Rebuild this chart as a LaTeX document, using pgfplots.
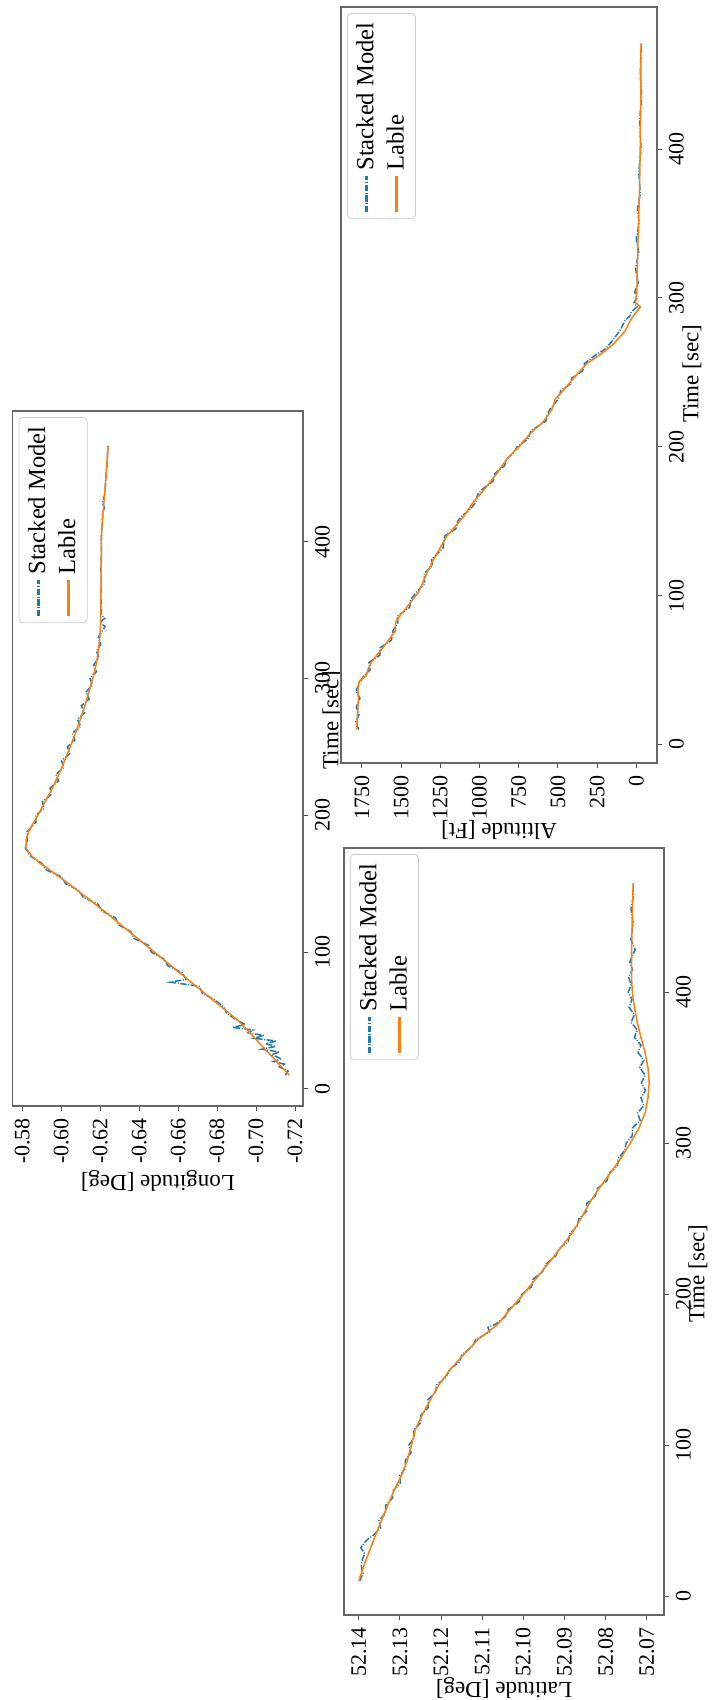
\documentclass[border=0pt]{standalone}
\usepackage{fontspec}
\setmainfont{Liberation Serif}
\usepackage{pgfplots}
\pgfplotsset{compat=1.18}
\definecolor{mplblue}{HTML}{1F77B4}
\definecolor{mplorange}{HTML}{FF7F0E}
\pgfplotsset{
  myaxis/.style={
    scale only axis,
    anchor=south west,
    xmin=-12.5, xmax=495.5,
    xtick={0,100,200,300,400},
    tick pos=left,
    tick align=outside,
    major tick length=2.5pt,
    axis line style={black!60, line width=0.6pt},
    every tick/.style={black!70, line width=0.5pt},
    /pgf/number format/assume math mode=true,
    ticklabel style={font=\fontsize{11}{13}\selectfont},
    label style={font=\fontsize{11.5}{13}\selectfont, inner sep=0pt},
    xlabel={Time [sec]},
    legend cell align=left,
    legend style={at={(1,1)}, anchor=north east, xshift=-3pt, yshift=-3pt,
      draw=black!20, rounded corners=2pt, fill=white, fill opacity=0.8,
      text opacity=1, font=\fontsize{12.3}{14}\selectfont, inner sep=2.5pt, row sep=1pt},
    legend image code/.code={\draw[#1, line width=1.6pt] (0pt,0pt) -- (18pt,0pt);},
    scaled ticks=false,
  },
  pred/.style={mplblue, line width=0.75pt, dash pattern=on 3.2pt off 0.8pt on 0.5pt off 0.8pt},
  lab/.style={mplorange, line width=0.75pt},
}
\begin{document}
\begin{tikzpicture}[rotate=90, transform shape]
\path[use as bounding box] (0pt,0pt) rectangle (850pt,356.5pt);
% ---------------- Latitude ----------------
\begin{axis}[myaxis,
  at={(42.5pt,24.5pt)}, width=383.5pt, height=160pt,
  ymin=52.0658, ymax=52.1436,
  ytick={52.07,52.08,52.09,52.10,52.11,52.12,52.13,52.14},
  yticklabel style={/pgf/number format/.cd, fixed, fixed zerofill, precision=2},
  ylabel={Latitude [Deg]},
  xlabel style={at={(axis description cs:0.445,-0.075)}, anchor=north},
  ylabel style={at={(axis description cs:-0.0808,0.5)}, anchor=south},
]
\addplot[pred] coordinates {
(10,52.1398)(15,52.1390)(20,52.1394)(25,52.1391)(28,52.1385)(32,52.1395)(35,52.1387)(38,52.1377)
(40,52.1366)(45,52.1347)(50,52.1351)(55,52.1335)(60,52.1335)(65,52.1318)(70,52.1316)(75,52.1299)
(80,52.1300)(85,52.1286)(90,52.1287)(95,52.1273)(100,52.1278)(105,52.1265)(110,52.1267)(115,52.1249)
(120,52.1249)(125,52.1231)(130,52.1232)(135,52.1214)(140,52.1210)(145,52.1188)(150,52.1180)(155,52.1156)
(160,52.1149)(165,52.1125)(170,52.1115)(175,52.1082)(178,52.1086)(180,52.1068)(185,52.1044)(190,52.1036)
(195,52.1010)(200,52.1003)(205,52.0980)(210,52.0976)(215,52.0953)(220,52.0945)(225,52.0922)(230,52.0913)
(235,52.0891)(240,52.0887)(245,52.0869)(250,52.0865)(255,52.0846)(260,52.0846)(265,52.0825)(270,52.0820)
(275,52.0797)(280,52.0792)(285,52.0771)(290,52.0769)(295,52.0754)(300,52.0750)(305,52.0735)(310,52.0735)
(315,52.0716)(320,52.0722)(325,52.0707)(330,52.0714)(335,52.0703)(340,52.0713)(345,52.0704)(350,52.0717)
(355,52.0707)(360,52.0721)(365,52.0714)(370,52.0730)(375,52.0723)(380,52.0738)(385,52.0730)(390,52.0743)
(395,52.0736)(400,52.0745)(405,52.0738)(410,52.0744)(415,52.0735)(420,52.0741)(425,52.0734)(428,52.0728)
(435,52.0739)(445,52.0733)(455,52.0738)(465,52.0732)(472,52.0733)
};
\addlegendentry{Stacked Model}
\addplot[lab] coordinates {
(10,52.1400)(20,52.1388)(30,52.1374)(40,52.1360)(50,52.1345)(60,52.1330)(70,52.1314)(80,52.1296)
(90,52.1282)(100,52.1272)(110,52.1263)(120,52.1246)(130,52.1226)(140,52.1205)(150,52.1178)(160,52.1145)
(170,52.1110)(180,52.1062)(190,52.1032)(200,52.1000)(210,52.0970)(220,52.0940)(230,52.0911)(240,52.0883)
(250,52.0860)(260,52.0840)(270,52.0816)(280,52.0789)(290,52.0763)(300,52.0740)(310,52.0719)(320,52.0704)
(330,52.0697)(340,52.0694)(350,52.0697)(360,52.0704)(370,52.0714)(380,52.0723)(390,52.0730)(400,52.0735)
(410,52.0737)(420,52.0737)(440,52.0736)(460,52.0734)(472,52.0733)
};
\addlegendentry{Lable}
\end{axis}
% ---------------- Longitude ----------------
\begin{axis}[myaxis,
  at={(297pt,205pt)}, width=347.5pt, height=145.15pt,
  ymin=-0.7241, ymax=-0.5751,
  ytick={-0.72,-0.70,-0.68,-0.66,-0.64,-0.62,-0.60,-0.58},
  yticklabel style={/pgf/number format/.cd, fixed, fixed zerofill, precision=2},
  ylabel={Longitude [Deg]},
  xlabel style={at={(axis description cs:0.555,-0.0654)}, anchor=north},
  ylabel style={at={(axis description cs:-0.0921,0.5)}, anchor=south},
]
\addplot[pred] coordinates {
(10,-0.7150)(13,-0.7165)(16,-0.7120)(18,-0.7150)(20,-0.7090)(22,-0.7130)(25,-0.7080)(27,-0.7120)
(29,-0.7030)(31,-0.7100)(33,-0.7050)(35,-0.7105)(37,-0.6990)(39,-0.7040)(41,-0.6960)(43,-0.6985)
(45,-0.6880)(47,-0.6945)(50,-0.6905)(55,-0.6850)(60,-0.6834)(65,-0.6787)(70,-0.6724)(75,-0.6709)
(78,-0.6560)(80,-0.6640)(85,-0.6621)(90,-0.6547)(95,-0.6527)(100,-0.6463)(105,-0.6447)(110,-0.6374)
(115,-0.6357)(120,-0.6294)(125,-0.6279)(130,-0.6210)(135,-0.6189)(140,-0.6113)(145,-0.6090)(150,-0.6023)
(155,-0.6002)(160,-0.5924)(165,-0.5899)(170,-0.5844)(176,-0.5816)(182,-0.5826)(188,-0.5825)(195,-0.5870)
(200,-0.5870)(205,-0.5911)(210,-0.5904)(215,-0.5947)(220,-0.5943)(225,-0.5986)(230,-0.5973)(235,-0.6013)
(240,-0.6002)(245,-0.6044)(250,-0.6032)(255,-0.6070)(260,-0.6057)(265,-0.6100)(270,-0.6083)(275,-0.6120)
(280,-0.6103)(285,-0.6144)(290,-0.6126)(295,-0.6160)(300,-0.6148)(305,-0.6181)(310,-0.6167)(315,-0.6193)
(320,-0.6181)(325,-0.6203)(330,-0.6190)(335,-0.6212)(338,-0.6225)(341,-0.6198)(344,-0.6224)(347,-0.6203)
(350,-0.6208)(360,-0.6203)(370,-0.6206)(380,-0.6204)(390,-0.6207)(400,-0.6205)(410,-0.6209)
(420,-0.6213)(425,-0.6222)(428,-0.6212)(435,-0.6224)(445,-0.6228)(455,-0.6234)(465,-0.6238)(470,-0.6240)
};
\addlegendentry{Stacked Model}
\addplot[lab] coordinates {
(10,-0.7171)(20,-0.7105)(30,-0.7040)(40,-0.6975)(50,-0.6907)(60,-0.6822)(70,-0.6736)(80,-0.6650)
(90,-0.6564)(100,-0.6478)(110,-0.6392)(120,-0.6306)(130,-0.6220)(140,-0.6130)(150,-0.6038)(160,-0.5942)
(165,-0.5891)(170,-0.5850)(176,-0.5819)(182,-0.5820)(188,-0.5833)(195,-0.5860)(200,-0.5880)(210,-0.5918)
(220,-0.5955)(230,-0.5988)(240,-0.6018)(250,-0.6046)(260,-0.6073)(270,-0.6098)(280,-0.6121)(290,-0.6142)
(300,-0.6162)(310,-0.6179)(320,-0.6191)(330,-0.6198)(340,-0.6202)(360,-0.6204)(380,-0.6205)(400,-0.6206)
(410,-0.6208)(420,-0.6214)(430,-0.6220)(440,-0.6226)(450,-0.6231)(460,-0.6236)(470,-0.6241)
};
\addlegendentry{Lable}
\end{axis}
% ---------------- Altitude ----------------
\begin{axis}[myaxis,
  at={(468.5pt,28pt)}, width=378pt, height=158pt,
  ymin=-132, ymax=1883,
  ytick={0,250,500,750,1000,1250,1500,1750},
  yticklabel style={/pgf/number format/1000 sep={}},
  ylabel={Altitude [Ft]},
  xlabel style={at={(axis description cs:0.515,-0.0791)}, anchor=north},
  ylabel style={at={(axis description cs:-0.0754,0.5)}, anchor=south},
]
\addplot[pred] coordinates {
(10,1770)(15,1790)(20,1768)(25,1785)(31,1762)(36,1788)(42,1760)(46,1738)(50,1698)(55,1705)
(60,1635)(65,1632)(70,1562)(76,1552)(82,1520)(86,1525)(92,1445)(97,1440)(102,1405)(108,1350)
(115,1352)(120,1298)(124,1306)(132,1232)(140,1222)(145,1150)(150,1138)(153,1118)(158,1058)(163,1022)
(168,1012)(172,976)(177,912)(182,902)(187,842)(192,824)(196,782)(200,760)(205,692)(211,670)
(217,578)(221,568)(225,552)(232,498)(238,480)(242,422)(246,412)(251,342)(256,330)(262,255)
(265,205)(269,170)(273,140)(278,105)(282,85)(285,70)(288,40)(291,28)(294,-5)(297,15)
(300,-5)(304,10)(310,-12)(320,5)(330,-16)(340,0)(350,-18)(360,-8)(370,-25)(385,-16)
(400,-30)(420,-22)(435,-34)(450,-25)(471,-32)
};
\addlegendentry{Stacked Model}
\addplot[lab] coordinates {
(10,1783)(20,1778)(31,1772)(36,1775)(42,1770)(44,1750)(46,1722)(50,1712)(55,1690)(60,1655)
(65,1615)(70,1580)(76,1538)(82,1535)(86,1510)(92,1464)(102,1390)(108,1365)(115,1336)(124,1294)
(132,1251)(140,1208)(145,1166)(153,1102)(163,1038)(172,964)(182,889)(192,825)(200,748)(205,709)
(211,655)(217,592)(225,538)(232,517)(238,464)(246,400)(256,315)(262,230)(269,145)(278,70)
(285,38)(291,-4)(294,-26)(297,6)(304,-4)(320,-6)(340,-11)(370,-20)(400,-25)(435,-29)(471,-30)
};
\addlegendentry{Lable}
\end{axis}
\end{tikzpicture}
\end{document}
